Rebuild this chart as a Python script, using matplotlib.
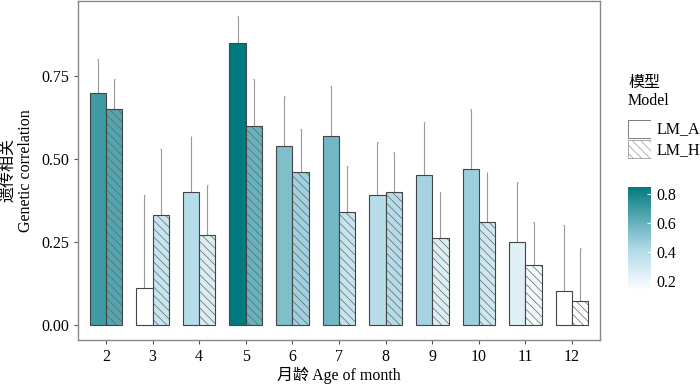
import matplotlib
matplotlib.use("Agg")
import matplotlib.pyplot as plt
import numpy as np
from matplotlib.colors import LinearSegmentedColormap, Normalize
from matplotlib.patches import Rectangle

plt.rcParams['font.family'] = ['Liberation Serif', 'Noto Sans CJK SC']
plt.rcParams['hatch.linewidth'] = 0.5

months = [2, 3, 4, 5, 6, 7, 8, 9, 10, 11, 12]
lm_a = [0.70, 0.11, 0.40, 0.85, 0.54, 0.57, 0.39, 0.45, 0.47, 0.25, 0.10]
lm_h = [0.65, 0.33, 0.27, 0.60, 0.46, 0.34, 0.40, 0.26, 0.31, 0.18, 0.07]
lm_a_upper = [0.80, 0.39, 0.57, 0.93, 0.69, 0.72, 0.55, 0.61, 0.65, 0.43, 0.30]
lm_h_upper = [0.74, 0.53, 0.42, 0.74, 0.59, 0.48, 0.52, 0.40, 0.46, 0.31, 0.23]

all_vals = lm_a + lm_h
cmap = LinearSegmentedColormap.from_list(
    'gc', [(0, 'white'), (0.08, 'white'), (0.46, '#ADD8E6'), (1, '#007A7E')])
norm = Normalize(vmin=min(all_vals), vmax=max(all_vals))

fs = 11.5
fig = plt.figure(figsize=(7, 3.87), dpi=100)
ax = fig.add_axes([78 / 700, 1 - 340 / 387, 522 / 700, 339 / 387])

x = np.array(months, dtype=float)
w = 0.35
edge = '#444444'
ax.bar(x - w / 2, lm_a, w, color=cmap(norm(np.array(lm_a))), edgecolor=edge, linewidth=0.8, zorder=2)
bars_h = ax.bar(x + w / 2, lm_h, w, color=cmap(norm(np.array(lm_h))), edgecolor=edge, linewidth=0.8,
                hatch='\\\\\\\\', zorder=2)
for b in bars_h:
    b._hatch_color = matplotlib.colors.to_rgba('#666666')

ax.vlines(x - w / 2, lm_a, lm_a_upper, color='#999999', linewidth=0.8, zorder=1)
ax.vlines(x + w / 2, lm_h, lm_h_upper, color='#999999', linewidth=0.8, zorder=1)
ax.hlines(lm_a_upper, x - w / 2 - 0.01, x - w / 2 + 0.01, color='#999999', linewidth=0.8)
ax.hlines(lm_h_upper, x + w / 2 - 0.01, x + w / 2 + 0.01, color='#999999', linewidth=0.8)

ax.set_xlim(1.4, 12.6)
ax.set_ylim(-0.0465, 0.9765)
ax.set_xticks(months)
ax.set_yticks([0, 0.25, 0.5, 0.75])
ax.set_yticklabels(['0.00', '0.25', '0.50', '0.75'])
ax.tick_params(labelsize=fs, color='#555555', length=3, width=0.8)
for s in ax.spines.values():
    s.set_color('#888888')
    s.set_linewidth(1.0)

ax.set_xlabel('月龄 Age of month', fontsize=fs, labelpad=1)
ax.set_ylabel('遗传相关\nGenetic correlation', fontsize=fs, labelpad=5, linespacing=1.15)

# legend title
fig.text(628 / 700, 1 - 92 / 387, '模型\nModel', fontsize=fs, ha='left', va='center', linespacing=1.2)

# key boxes
key_ax = fig.add_axes([628 / 700, 1 - 159 / 387, 23 / 700, 40 / 387])
key_ax.set_xlim(0, 1)
key_ax.set_ylim(0, 2)
key_ax.axis('off')
key_ax.add_patch(Rectangle((0.02, 1.05), 0.96, 0.9, facecolor='white', edgecolor='#666666', linewidth=0.6))
hp = Rectangle((0.02, 0.05), 0.96, 0.9, facecolor='white', edgecolor='#999999', linewidth=0.6, hatch='\\\\\\\\')
hp._hatch_color = matplotlib.colors.to_rgba('#999999')
key_ax.add_patch(hp)
fig.text(657 / 700, 1 - 129 / 387, 'LM_A', fontsize=fs, va='center')
fig.text(657 / 700, 1 - 150 / 387, 'LM_H', fontsize=fs, va='center')

# colorbar
cax = fig.add_axes([628 / 700, 1 - 300 / 387, 23 / 700, 113 / 387])
sm = matplotlib.cm.ScalarMappable(norm=norm, cmap=cmap)
cb = fig.colorbar(sm, cax=cax, ticks=[0.2, 0.4, 0.6, 0.8])
cb.outline.set_visible(False)
cb.ax.tick_params(color='white', direction='in', length=3, width=0.8, labelsize=fs, pad=4)
cb.ax.set_yticklabels(['0.2', '0.4', '0.6', '0.8'])

fig.savefig('out.png', dpi=100)
